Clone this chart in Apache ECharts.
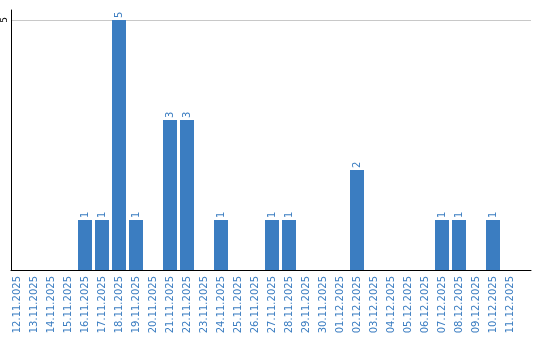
<!DOCTYPE html>
<html>
<head>
<meta charset="utf-8">
<script src="https://cdn.jsdelivr.net/npm/echarts@6/dist/echarts.min.js"></script>
<style>html,body{margin:0;padding:0;background:#fff}#c{width:540px;height:340px}</style>
</head>
<body>
<div id="c"></div>
<script>
var categories = ['12.11.2025','13.11.2025','14.11.2025','15.11.2025','16.11.2025','17.11.2025','18.11.2025','19.11.2025','20.11.2025','21.11.2025','22.11.2025','23.11.2025','24.11.2025','25.11.2025','26.11.2025','27.11.2025','28.11.2025','29.11.2025','30.11.2025','01.12.2025','02.12.2025','03.12.2025','04.12.2025','05.12.2025','06.12.2025','07.12.2025','08.12.2025','09.12.2025','10.12.2025','11.12.2025'];
var values = [0,0,0,0,1,1,5,1,0,3,3,0,1,0,0,1,1,0,0,0,2,0,0,0,0,1,1,0,1,0];
var yMax = 5.2;
var yTick = 5;

var blue = '#3b7dc1';
var font = 'DejaVu Sans';
var chart = echarts.init(document.getElementById('c'), null, {renderer: 'canvas'});
chart.setOption({
  animation: false,
  backgroundColor: '#fff',
  grid: [
    {left: 10, right: 9, top: 10, bottom: 70},
    {left: 8.5, width: 510, top: 10, bottom: 70}
  ],
  xAxis: [
    {gridIndex: 0, type: 'category', data: categories,
     axisLine: {lineStyle: {color: '#000', width: 1}}, axisTick: {show: false},
     axisLabel: {show: false}, splitLine: {show: false}},
    {gridIndex: 1, type: 'category', data: categories,
     axisLine: {show: false}, axisTick: {show: false},
     axisLabel: {rotate: 90, interval: 0, color: blue, fontFamily: font, fontSize: 10, margin: 6}}
  ],
  yAxis: [
    {gridIndex: 0, type: 'value', min: 0, max: yMax, interval: yTick,
     axisLine: {show: true, lineStyle: {color: '#000', width: 1}}, axisTick: {show: false},
     axisLabel: {rotate: 90, showMinLabel: false, showMaxLabel: false, color: '#000', fontFamily: font, fontSize: 9, margin: 2},
     splitLine: {show: true, showMinLine: false, showMaxLine: false, lineStyle: {color: '#c8c8c8', width: 1}}},
    {gridIndex: 1, type: 'value', min: 0, max: yMax, show: false, splitLine: {show: false}}
  ],
  series: [{
    type: 'bar', xAxisIndex: 1, yAxisIndex: 1, data: values, barWidth: 14,
    itemStyle: {color: blue},
    label: {show: true, position: 'top', rotate: 90, align: 'left', verticalAlign: 'middle', distance: 2,
      color: blue, fontFamily: font, fontSize: 10,
      formatter: function (p) { return p.value ? String(p.value) : ''; }}
  }]
});
</script>
</body>
</html>
